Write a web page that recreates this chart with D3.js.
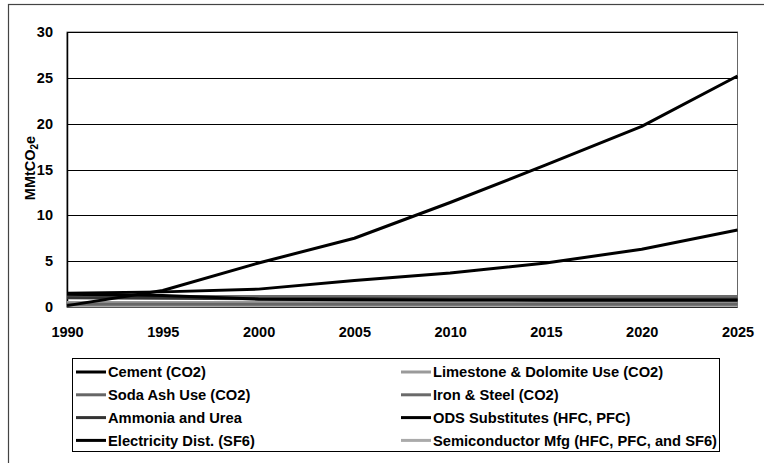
<!DOCTYPE html>
<html>
<head>
<meta charset="utf-8">
<script src="https://cdn.jsdelivr.net/npm/d3@7"></script>
<style>
  html, body { margin: 0; padding: 0; background: #fff; }
  svg { display: block; font-family: "Liberation Sans", Arial, sans-serif; }
</style>
</head>
<body>
<svg id="chart" width="764" height="463"></svg>
<script>
// Industrial process emissions, MMtCO2e
const years = [1990, 1995, 2000, 2005, 2010, 2015, 2020, 2025];
const yTicks = [0, 5, 10, 15, 20, 25, 30];

const cement        = [1.5, 1.65, 1.95, 2.9, 3.7, 4.8, 6.3, 8.4];
const limestone     = [0.5, 0.5, 0.5, 0.5, 0.5, 0.5, 0.5, 0.5];
const sodaAsh       = [0.3, 0.3, 0.3, 0.3, 0.3, 0.3, 0.3, 0.3];
const ironSteel     = [1.15, 1.15, 1.15, 1.15, 1.15, 1.15, 1.15, 1.15];
const ammoniaUrea   = [1.0, 0.95, 0.9, 0.9, 0.85, 0.85, 0.85, 0.85];
const odsSubst      = [0.15, 1.8, 4.8, 7.5, 11.4, 15.5, 19.7, 25.2];
const electricity   = [1.4, 1.25, 0.85, 0.8, 0.75, 0.75, 0.75, 0.75];
const semiconductor = [0.1, 0.12, 0.15, 0.15, 0.15, 0.15, 0.15, 0.15];

const seriesNames = [
  "Cement (CO2)", "Limestone & Dolomite Use (CO2)",
  "Soda Ash Use (CO2)", "Iron & Steel (CO2)",
  "Ammonia and Urea", "ODS Substitutes (HFC, PFC)",
  "Electricity Dist. (SF6)", "Semiconductor Mfg (HFC, PFC, and SF6)"
];
const seriesValues = [cement, limestone, sodaAsh, ironSteel, ammoniaUrea, odsSubst, electricity, semiconductor];
const seriesColors = ["#000", "#9a9a9a", "#666", "#6a6a6a", "#333", "#000", "#000", "#aaa"];

const svg = d3.select("#chart");

// outer frame of the figure (extends past the right/bottom edges)
svg.append("rect")
  .attr("x", 8.5).attr("y", 4.5)
  .attr("width", 800).attr("height", 500)
  .attr("fill", "#fff").attr("stroke", "#444").attr("stroke-width", 1.2);

const plot = { left: 67, right: 737.5, top: 32, bottom: 307 };
const x = d3.scaleLinear().domain([1990, 2025]).range([plot.left, plot.right]);
const y = d3.scaleLinear().domain([0, 30]).range([plot.bottom, plot.top]);

// plot area frame
svg.append("rect")
  .attr("x", plot.left).attr("y", plot.top)
  .attr("width", plot.right - plot.left).attr("height", plot.bottom - plot.top)
  .attr("fill", "#fff").attr("stroke", "#666").attr("stroke-width", 1);

// horizontal gridlines
svg.append("g").selectAll("line").data(yTicks).join("line")
  .attr("x1", plot.left).attr("x2", plot.right)
  .attr("y1", d => Math.round(y(d)) + 0.5).attr("y2", d => Math.round(y(d)) + 0.5)
  .attr("stroke", "#000").attr("stroke-width", 1);

// y axis
const yAxis = svg.append("g")
  .attr("transform", `translate(${plot.left},0)`)
  .call(d3.axisLeft(y).tickValues(yTicks).tickSize(0).tickPadding(14));
yAxis.select(".domain").attr("stroke", "#000").attr("stroke-width", 1.5);
yAxis.selectAll("text")
  .attr("font-size", 14.5).attr("font-weight", "bold").attr("fill", "#000")
  .attr("font-family", "'Liberation Sans', Arial, sans-serif");

// x axis labels
const xAxis = svg.append("g")
  .attr("transform", `translate(0,${plot.bottom})`)
  .call(d3.axisBottom(x).tickValues(years).tickFormat(d3.format("d")).tickSize(0).tickPadding(20));
xAxis.select(".domain").remove();
xAxis.selectAll("text")
  .attr("font-size", 14.5).attr("font-weight", "bold").attr("fill", "#000")
  .attr("font-family", "'Liberation Sans', Arial, sans-serif");

// y axis title with subscript
const yTitle = svg.append("text")
  .attr("transform", "translate(35,168) rotate(-90)")
  .attr("text-anchor", "middle")
  .attr("font-size", 14.5).attr("font-weight", "bold").attr("fill", "#000");
yTitle.append("tspan").text("MMtCO");
yTitle.append("tspan").attr("font-size", 10).attr("dy", 3).text("2");
yTitle.append("tspan").attr("dy", -3).text("e");

// series lines: light ones first so dark lines sit on top
const line = d3.line().x((d, i) => x(years[i])).y(d => y(d));
const drawOrder = [7, 1, 2, 3, 4, 6, 0, 5];
svg.append("g").selectAll("path").data(drawOrder).join("path")
  .attr("d", i => line(seriesValues[i]))
  .attr("fill", "none")
  .attr("stroke", i => seriesColors[i])
  .attr("stroke-width", 3)
  .attr("stroke-linejoin", "round");

// legend
const legend = { left: 72, top: 358, width: 647, height: 93, rowH: 22.8, colX: [76, 401] };
svg.append("rect")
  .attr("x", legend.left + 0.5).attr("y", legend.top + 0.5)
  .attr("width", legend.width).attr("height", legend.height)
  .attr("fill", "#fff").attr("stroke", "#000").attr("stroke-width", 1);

const items = svg.append("g").selectAll("g").data(seriesNames.map((n, i) => i)).join("g")
  .attr("transform", i => `translate(${legend.colX[i % 2]},${legend.top + 14 + Math.floor(i / 2) * legend.rowH})`);
items.append("line")
  .attr("x1", 0).attr("x2", 30).attr("y1", 0).attr("y2", 0)
  .attr("stroke", i => seriesColors[i]).attr("stroke-width", 3);
items.append("text")
  .attr("x", 32).attr("y", 0).attr("dy", "0.36em")
  .attr("font-size", 14.7).attr("font-weight", "bold").attr("fill", "#000")
  .text(i => seriesNames[i]);
</script>
</body>
</html>
